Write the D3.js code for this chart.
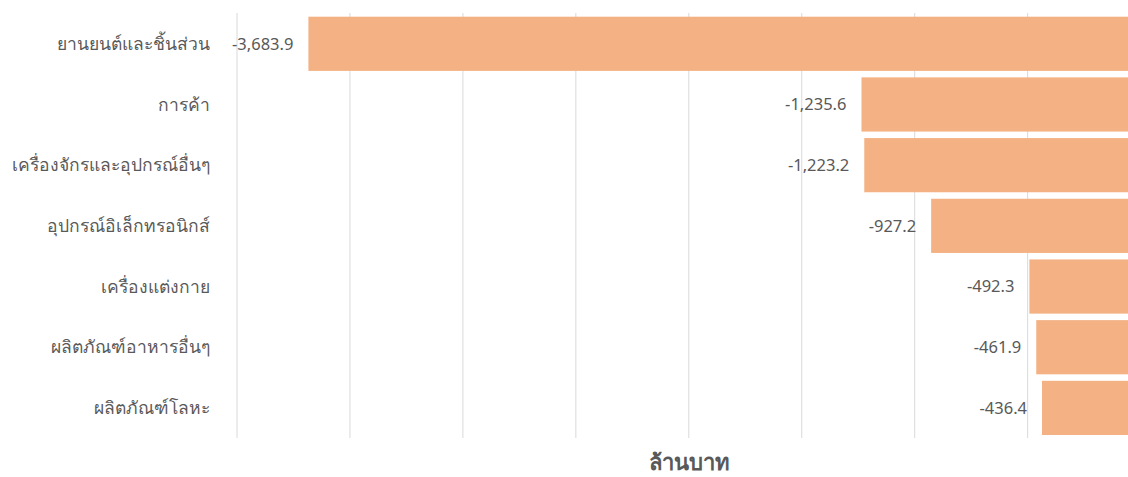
<!DOCTYPE html>
<html>
<head>
<meta charset="utf-8">
<script src="https://cdn.jsdelivr.net/npm/d3@7"></script>
<style>
body { margin: 0; background: #fff; overflow: hidden; }
text { font-family: "Noto Sans", "Liberation Sans", sans-serif; }
</style>
</head>
<body>
<div id="chart"></div>
<script>
var categories = ["ยานยนต์และชิ้นส่วน", "การค้า", "เครื่องจักรและอุปกรณ์อื่นๆ", "อุปกรณ์อิเล็กทรอนิกส์", "เครื่องแต่งกาย", "ผลิตภัณฑ์อาหารอื่นๆ", "ผลิตภัณฑ์โลหะ"];
var values = [-3683.9, -1235.6, -1223.2, -927.2, -492.3, -461.9, -436.4];
var gridTicks = [-4000, -3500, -3000, -2500, -2000, -1500, -1000, -500];
var axisTitle = "ล้านบาท";

var svgW = 1128;
var svgH = 477;

var svg = d3.select("#chart")
            .append("svg")
            .attr("width", svgW)
            .attr("height", svgH);

var xScale = d3.scaleLinear()
               .domain([-4000, 0])
               .range([237, 1140.6]);

var yScale = d3.scaleBand()
               .domain(categories)
               .range([16.7, 435])
               .paddingInner(0.107)
               .paddingOuter(0);

// gridlines
svg.append("g")
   .selectAll("line")
   .data(gridTicks)
   .enter()
   .append("line")
   .attr("x1", d => xScale(d))
   .attr("x2", d => xScale(d))
   .attr("y1", 13)
   .attr("y2", 438)
   .attr("stroke", "#d9d9d9")
   .attr("stroke-width", 1);

// bars
svg.append("g")
   .selectAll("rect")
   .data(values)
   .enter()
   .append("rect")
   .attr("x", d => xScale(d))
   .attr("y", (d, i) => yScale(categories[i]))
   .attr("width", d => xScale(0) - xScale(d))
   .attr("height", yScale.bandwidth())
   .attr("fill", "#F4B183");

// value labels (plain hyphen like the original)
var fmt = d3.format(",.1f");
svg.append("g")
   .selectAll("text")
   .data(values)
   .enter()
   .append("text")
   .attr("x", d => xScale(d) - 15)
   .attr("y", (d, i) => yScale(categories[i]) + yScale.bandwidth() / 2)
   .attr("dy", "0.35em")
   .attr("text-anchor", "end")
   .attr("font-size", 16.5)
   .attr("fill", "#595959")
   .text(d => fmt(d).replace("\u2212", "-"));

// category labels
svg.append("g")
   .selectAll("text")
   .data(categories)
   .enter()
   .append("text")
   .attr("x", 210)
   .attr("y", d => yScale(d) + yScale.bandwidth() / 2)
   .attr("dy", "0.35em")
   .attr("text-anchor", "end")
   .attr("font-size", 17.5)
   .attr("fill", "#595959")
   .text(d => d);

// axis title
svg.append("text")
   .attr("x", 689)
   .attr("y", 470)
   .attr("text-anchor", "middle")
   .attr("font-size", 22)
   .attr("font-weight", 600)
   .attr("fill", "#595959")
   .text(axisTitle);
</script>
</body>
</html>
